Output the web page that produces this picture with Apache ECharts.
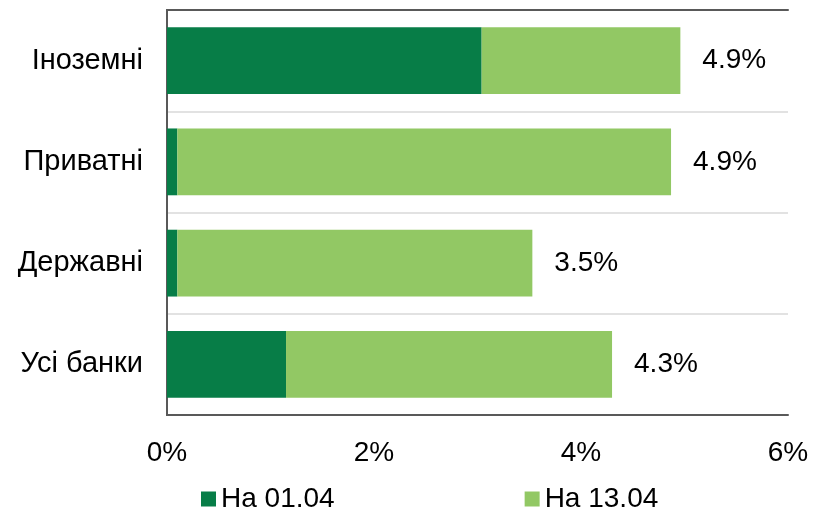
<!DOCTYPE html>
<html>
<head>
<meta charset="utf-8">
<style>
  html, body { margin: 0; padding: 0; background: #fff; }
  #chart { width: 813px; height: 507px; }
</style>
<script src="https://cdn.jsdelivr.net/npm/echarts@6/dist/echarts.min.js"></script>
</head>
<body>
<div id="chart"></div>
<script>
// категорії знизу вгору
const categories = ['Усі банки', 'Державні', 'Приватні', 'Іноземні']
const seriesNames = ['На 01.04', 'На 13.04']
// значення на 01.04, %
const valuesApr01 = [1.15, 0.1, 0.1, 3.04]
// приріст до 13.04, %
const addedApr13 = [3.15, 3.43, 4.77, 1.92]
// підписи підсумку
const totalLabels = ['4.3%', '3.5%', '4.9%', '4.9%']
const tickValues = [0, 2, 4, 6]

const font = 'Liberation Sans, Arial, sans-serif'
const frame = { show: true, lineStyle: { color: '#595959', width: 2 } }
const chart = echarts.init(document.getElementById('chart'))

chart.setOption({
  animation: false,
  grid: {
    left: 167,
    right: 25,
    top: 10,
    bottom: 92
  },
  legend: {
    data: seriesNames,
    left: 196,
    top: 480,
    itemWidth: 15,
    itemHeight: 15,
    itemGap: 190,
    icon: 'rect',
    textStyle: { fontFamily: font, fontSize: 28, color: '#000' }
  },
  xAxis: [
    {
      type: 'value',
      position: 'bottom',
      min: 0,
      max: 6,
      interval: 2,
      axisLine: frame,
      axisTick: { show: false },
      splitLine: { show: false },
      axisLabel: {
        margin: 24,
        fontFamily: font,
        fontSize: 28,
        color: '#000',
        formatter: v => (tickValues.includes(v) ? v + '%' : '')
      }
    },
    {
      type: 'value',
      position: 'top',
      min: 0,
      max: 6,
      axisLine: frame,
      axisTick: { show: false },
      axisLabel: { show: false },
      splitLine: { show: false }
    }
  ],
  yAxis: [
    {
      type: 'category',
      position: 'left',
      data: categories,
      axisLine: frame,
      axisTick: { show: false },
      splitLine: {
        show: true,
        showMinLine: false,
        showMaxLine: false,
        lineStyle: { color: '#d9d9d9', width: 1.5 }
      },
      axisLabel: {
        margin: 24,
        fontFamily: font,
        fontSize: 29,
        color: '#000'
      }
    },
    {
      type: 'category',
      position: 'right',
      data: categories,
      axisLine: frame,
      axisTick: { show: false },
      axisLabel: { show: false },
      splitLine: { show: false }
    }
  ],
  series: [
    {
      name: seriesNames[0],
      type: 'bar',
      stack: 'total',
      barCategoryGap: '34%',
      data: valuesApr01,
      itemStyle: { color: '#077d47' }
    },
    {
      name: seriesNames[1],
      type: 'bar',
      stack: 'total',
      barCategoryGap: '34%',
      data: addedApr13,
      itemStyle: { color: '#92c864' },
      label: {
        show: true,
        position: 'right',
        distance: 22,
        fontFamily: font,
        fontSize: 28,
        color: '#000',
        formatter: p => totalLabels[p.dataIndex]
      }
    }
  ]
})
</script>
</body>
</html>
